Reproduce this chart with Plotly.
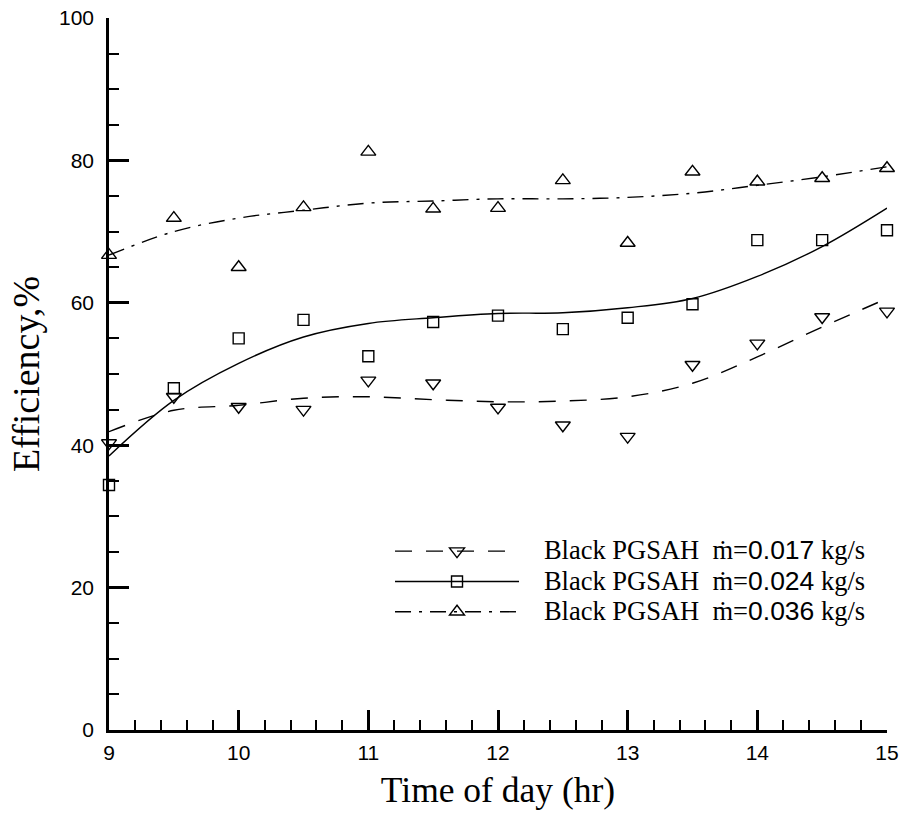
import plotly.graph_objects as go

# ---- data ----
hours = [9, 9.5, 10, 10.5, 11, 11.5, 12, 12.5, 13, 13.5, 14, 14.5, 15]

eff_017 = [40.3, 46.8, 45.4, 45.0, 49.1, 48.7, 45.3, 42.8, 41.2, 51.3, 54.3, 58.0, 58.8]
eff_024 = [34.4, 48.0, 55.0, 57.6, 52.5, 57.3, 58.2, 56.3, 57.9, 59.8, 68.8, 68.8, 70.2]
eff_036 = [66.7, 71.9, 65.0, 73.4, 81.2, 73.2, 73.3, 77.2, 68.4, 78.4, 77.0, 77.5, 78.9]

# fitted trend curves
fit_017 = [41.9, 44.9, 45.6, 46.6, 46.8, 46.4, 46.1, 46.2, 46.8, 48.7, 52.4, 56.6, 60.6]
fit_024 = [38.5, 46.3, 51.5, 55.2, 57.1, 57.9, 58.5, 58.6, 59.3, 60.6, 63.7, 67.9, 73.3]
fit_036 = [66.7, 70.0, 71.9, 73.0, 74.0, 74.3, 74.6, 74.6, 74.8, 75.4, 76.5, 77.7, 79.1]

flow_rates = ['0.017', '0.024', '0.036']

x_ticks = [9, 10, 11, 12, 13, 14, 15]
y_ticks = [0, 20, 40, 60, 80, 100]


def legend_name(rate):
    return ('<span style="font-size:26.5px">&nbsp;&nbsp;&nbsp;Black PGSAH&nbsp;&nbsp;ṁ='
            '<span style="font-family:Liberation Sans">' + rate + '</span> kg/s</span>')


# ---- styles ----
series = [
    (eff_017, fit_017, 'triangle-down-open', '17px,14px', flow_rates[0]),
    (eff_024, fit_024, 'square-open', 'solid', flow_rates[1]),
    (eff_036, fit_036, 'triangle-up-open', '16px,8px,3px,8px', flow_rates[2]),
]

fig = go.Figure()
for pts, fit, sym, dash, rate in series:
    msize = 11 if sym == 'square-open' else 13
    fig.add_trace(go.Scatter(
        x=hours, y=fit, mode='lines',
        line=dict(color='black', width=1.4, dash=dash, shape='spline', smoothing=1.0),
        showlegend=False, hoverinfo='skip'))
    fig.add_trace(go.Scatter(
        x=hours, y=pts, mode='markers',
        marker=dict(symbol=sym, size=msize, color='black', line=dict(color='black', width=1.4)),
        showlegend=False, cliponaxis=False))
    # legend entry
    fig.add_trace(go.Scatter(
        x=[None], y=[None], mode='lines+markers', name=legend_name(rate),
        line=dict(color='black', width=1.4, dash=dash),
        marker=dict(symbol=sym, size=msize, color='black', line=dict(color='black', width=1.4))))

axis_common = dict(
    showline=True, linecolor='black', linewidth=2.5, mirror=False,
    ticks='inside', ticklen=20, tickwidth=2.5, tickcolor='black',
    showgrid=False, zeroline=False, automargin=False,
    tickfont=dict(family='Liberation Sans', size=21, color='black'),
)

fig.update_xaxes(
    range=[9, 15], tickvals=x_ticks, ticktext=[str(v) for v in x_ticks],
    minor=dict(ticks='inside', ticklen=10, tickwidth=1.8, tickcolor='black', dtick=0.2, tick0=9),
    title=dict(text='Time of day (hr)', font=dict(family='Liberation Serif', size=35.5, color='black'), standoff=15),
    ticklabelstandoff=2,
    **axis_common)
fig.update_yaxes(
    range=[0, 100], tickvals=y_ticks, ticktext=[str(v) for v in y_ticks],
    minor=dict(ticks='inside', ticklen=10, tickwidth=1.8, tickcolor='black', dtick=5, tick0=0),
    title=dict(text='Efficiency,%', font=dict(family='Liberation Serif', size=38, color='black'), standoff=8),
    ticklabelstandoff=8,
    **axis_common)

fig.update_layout(
    width=908, height=816,
    margin=dict(l=109, r=21, t=18, b=86),
    paper_bgcolor='white', plot_bgcolor='white',
    legend=dict(
        x=0.3612, y=0.2795, xanchor='left', yanchor='top',
        bgcolor='rgba(0,0,0,0)', borderwidth=0,
        font=dict(family='Liberation Serif', size=21, color='black'),
        itemwidth=124, tracegroupgap=0,
    ),
)

fig.write_html('out.html', config={'displayModeBar': False},
               post_script="document.body.style.margin='0px';")
